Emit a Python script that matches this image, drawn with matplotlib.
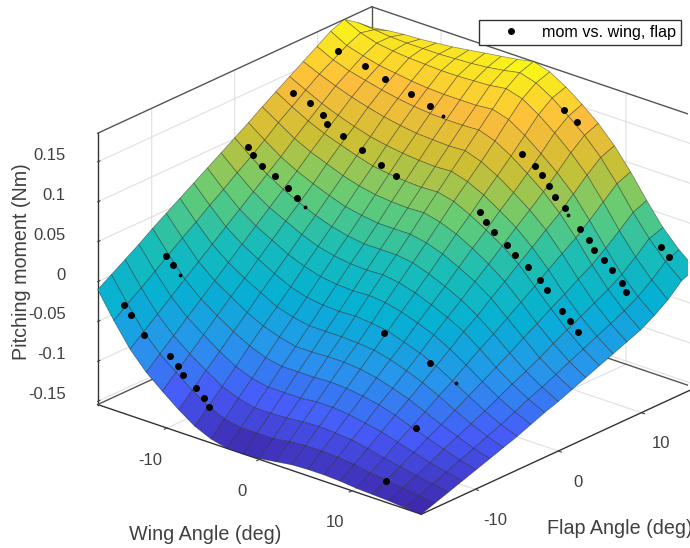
import matplotlib
matplotlib.use("Agg")
import matplotlib.pyplot as plt
from matplotlib.colors import LinearSegmentedColormap
import numpy as np

plt.rcParams['font.family'] = ['Liberation Sans', 'DejaVu Sans']
plt.rcParams['axes.unicode_minus'] = False

wing_grid = [-17.5, -15.75, -14, -12.25, -10.5, -8.75, -7, -5.25, -3.5, -1.75, 0,
             1.75, 3.5, 5.25, 7, 8.75, 10.5, 12.25, 14, 15.75, 17.5]
flap_grid = [-16.5, -14.85, -13.2, -11.55, -9.9, -8.25, -6.6, -4.95, -3.3, -1.65, 0,
             1.65, 3.3, 4.95, 6.6, 8.25, 9.9, 11.55, 13.2, 14.85, 16.5]

# fitted surface, in 1/1000 Nm, one row per flap angle
moment_milli = [
    [-10, -42, -71, -93, -110, -126, -140, -149, -154, -154, -153, -150, -147, -146, -146, -147, -149, -150, -151, -153, -154],
    [1, -29, -57, -78, -94, -110, -123, -132, -136, -136, -136, -133, -131, -131, -132, -134, -138, -140, -143, -146, -148],
    [12, -17, -43, -63, -79, -93, -106, -114, -119, -119, -118, -116, -115, -116, -118, -122, -127, -131, -135, -139, -142],
    [23, -4, -29, -48, -63, -77, -89, -97, -101, -101, -101, -99, -99, -101, -105, -109, -115, -121, -127, -132, -136],
    [35, 9, -15, -33, -47, -60, -71, -79, -83, -83, -83, -82, -83, -86, -90, -96, -104, -111, -118, -125, -130],
    [46, 22, -1, -18, -31, -44, -54, -61, -66, -66, -65, -65, -67, -71, -77, -84, -93, -102, -110, -118, -124],
    [57, 34, 13, -3, -16, -27, -38, -44, -48, -48, -48, -49, -51, -56, -63, -71, -81, -92, -102, -111, -118],
    [68, 47, 27, 12, 0, -11, -21, -27, -30, -31, -30, -32, -35, -42, -49, -58, -70, -82, -94, -104, -112],
    [79, 59, 41, 27, 16, 5, -3, -9, -12, -13, -12, -14, -19, -26, -34, -45, -58, -72, -85, -96, -105],
    [90, 72, 55, 42, 32, 22, 14, 9, 6, 5, 6, 3, -3, -11, -20, -31, -46, -62, -76, -88, -98],
    [101, 84, 69, 57, 47, 38, 31, 26, 23, 23, 23, 20, 13, 4, -6, -19, -35, -52, -68, -81, -92],
    [112, 97, 83, 72, 63, 55, 48, 44, 41, 41, 41, 37, 30, 20, 9, -5, -23, -41, -59, -73, -85],
    [124, 111, 98, 88, 80, 72, 66, 62, 60, 59, 60, 55, 47, 36, 23, 8, -11, -31, -49, -65, -78],
    [135, 123, 112, 103, 96, 89, 83, 80, 78, 77, 78, 73, 63, 51, 38, 22, 1, -20, -40, -57, -71],
    [146, 136, 126, 118, 111, 105, 101, 98, 96, 95, 96, 90, 80, 67, 53, 35, 14, -10, -31, -49, -64],
    [157, 148, 140, 133, 127, 122, 118, 115, 114, 113, 114, 107, 96, 82, 67, 49, 26, 1, -22, -41, -57],
    [168, 158, 151, 146, 141, 137, 134, 132, 131, 131, 132, 125, 113, 98, 82, 62, 38, 11, -13, -33, -50],
    [179, 168, 162, 157, 154, 151, 149, 148, 148, 148, 150, 144, 131, 115, 98, 78, 52, 24, -2, -23, -40],
    [186, 176, 170, 167, 165, 164, 163, 163, 164, 165, 168, 162, 149, 133, 115, 94, 67, 38, 12, -10, -28],
    [174, 172, 170, 169, 169, 169, 170, 171, 173, 176, 180, 174, 162, 146, 129, 108, 82, 53, 27, 5, -12],
    [160, 163, 165, 166, 168, 170, 173, 176, 179, 182, 186, 180, 168, 153, 136, 115, 89, 60, 33, 12, -5],
]

# measured points
wing_pts = [-16.7, -13.8, -11.6, -8.8, -6.7, 7.7, 9.1,
            3.2, 4.6, 5.4, 6.1, 6.8, 7.8,
            9.5, 10.4, 11.0, 12.1, 12.9, 14.0, 14.5,
            -17.1, -15.3, -13.9, -13.4, -11.7, -9.7, -7.6, -6.0,
            3.1, 3.8, 4.6, 6.0, 6.9, 8.3, 9.6, 10.3,
            14.4, 15.2,
            -17.5, -17.0, -16.0, -14.6, -13.2, -12.3,
            14.3, 15.2, 16.1,
            -17.5, -16.8, 6.1, 11.0,
            -16.1, -15.4, -14.0, -11.2, -10.3, -9.7, -8.4, -7.5, -6.9, 15.4, 12.2]
flap_pts = [11.55] * 20 + [6.6] * 16 + [15.84] * 2 + [1.65] * 6 + [3.96] * 3 + [-8.25] * 4 + [-14.85] * 11
mom_pts = [.1579, .1505, .1428, .1351, .1273, .1788, .1693,
           .1071, .0976, .0885, .0774, .0666, .0566,
           .0371, .0269, .0169, .0086, -.0009, -.0129, -.0221,
           .1276, .121, .1115, .1021, .0939, .0844, .0736, .0664,
           .057, .0475, .0379, .0271, .0181, .0086, -.0026, -.0121,
           .0133, .0038,
           .0812, .0733, .0633, .0564, .0469, .0376,
           -.0099, -.019, -.029,
           -.0072, -.016, -.011, -.0302,
           -.0312, -.0414, -.0607, -.0759, -.085, -.0937, -.1049, -.114, -.1239, -.0616, -.1412]

# points that barely poke through the surface
wing_hidden = [-5.4, 8.2, -11.4, -16.0, 13.9]
flap_hidden = [11.55, 11.55, 1.65, -8.25, -8.25]
mom_hidden = [.1198, .0496, .0303, -.0252, -.043]

x_ticks = [-10, 0, 10]
y_ticks = [-10, 0, 10]
z_ticks = [-0.15, -0.1, -0.05, 0, 0.05, 0.1, 0.15]
z_ticklabels = ['-0.15', '-0.1', '-0.05', '0', '0.05', '0.1', '0.15']
x_lim = (-17.5, 17.5)
y_lim = (-16.5, 16.5)
z_lim = (-.154, .186)

parula = LinearSegmentedColormap.from_list('parula', [
    (0.0, (.2422, .1504, .6603)), (.125, (.2778, .3556, .9777)),
    (.25, (.1540, .5902, .9218)), (.375, (.0200, .6900, .8300)),
    (.5, (.1000, .7400, .7200)), (.625, (.4000, .8000, .4500)),
    (.75, (.8000, .7500, .2000)), (.875, (.9900, .7400, .2400)),
    (1.0, (.9769, .9839, .0805))])

W, H = 690, 548
size = 600
text_color = (.25, .25, .25)
fig = plt.figure(figsize=(W / 100, H / 100), dpi=100)
ax = fig.add_axes([88.4 / W, -20.6 / H, size / W, size / H], projection='3d', proj_type='ortho')
ax.set_box_aspect((427, 422, 296), zoom=648.5 / size)
ax.view_init(elev=23.3, azim=-49.4)
ax.computed_zorder = False
ax.patch.set_alpha(0)

# back edges of the box, behind the surface
box_color = (.33, .33, .33)
for xs, ys, zs in [(x_lim, (y_lim[1], y_lim[1]), (z_lim[1], z_lim[1])),
                   ((x_lim[0], x_lim[0]), y_lim, (z_lim[1], z_lim[1])),
                   ((x_lim[0], x_lim[0]), (y_lim[1], y_lim[1]), z_lim),
                   (x_lim, (y_lim[1], y_lim[1]), (z_lim[0], z_lim[0])),
                   ((x_lim[0], x_lim[0]), y_lim, (z_lim[0], z_lim[0]))]:
    ax.plot(xs, ys, zs, color=box_color, lw=1.0, zorder=1)

X, Y = np.meshgrid(wing_grid, flap_grid)
Z = np.array(moment_milli) / 1000.0
ax.plot_surface(X, Y, Z, rstride=1, cstride=1, cmap=parula, vmin=z_lim[0], vmax=z_lim[1], shade=False,
                edgecolor=(.1, .1, .1, .5), linewidth=.5, zorder=2)
pts, = ax.plot(wing_pts, flap_pts, mom_pts, '.', color='k', ms=8, zorder=3, label='mom vs. wing, flap')
ax.plot(wing_hidden, flap_hidden, mom_hidden, '.', color='k', ms=3.5, zorder=3)

ax.set_xlim(*x_lim, view_margin=0)
ax.set_ylim(*y_lim, view_margin=0)
ax.set_zlim(*z_lim, view_margin=0)
ax.set_xticks(x_ticks)
ax.set_yticks(y_ticks)
ax.set_zticks(z_ticks)
ax.set_zticklabels(z_ticklabels)
ax.zaxis.set_ticks_position('lower')

for axis in (ax.xaxis, ax.yaxis, ax.zaxis):
    axis.pane.set_facecolor((1, 1, 1, 0))
    axis.pane.set_edgecolor((1, 1, 1, 0))
    axis.line.set_color((.2, .2, .2))
    axis.line.set_linewidth(1.0)
    axis._axinfo['grid'].update(color=(.88, .88, .88), linewidth=.8)
    axis._axinfo['tick'].update(inward_factor=.12, outward_factor=0)
ax.zaxis._axinfo['tick'].update(inward_factor=0, outward_factor=.1)
ax.tick_params(axis='both', labelsize=12, labelcolor=text_color, colors=text_color)
ax.tick_params(axis='x', pad=6)
ax.tick_params(axis='y', pad=6)
ax.tick_params(axis='z', pad=4)
for t in ax.zaxis.get_ticklabels():
    t.set_ha('right')
    t.set_va('bottom')

fig.text(205 / W, 1 - 534 / H, 'Wing Angle (deg)', ha='center', va='center', fontsize=14.2, color=text_color)
fig.text(547 / W, 1 - 529 / H, 'Flap Angle (deg)', ha='left', va='center', fontsize=14.2, color=text_color)
fig.text(22 / W, 1 - 262 / H, 'Pitching moment (Nm)', rotation=90, ha='center', va='center', fontsize=14.2, color=text_color)

fig.legend(handles=[pts], loc='upper right', bbox_to_anchor=(681 / W, 1 - 20 / H), fancybox=False,
           edgecolor=(.2, .2, .2), framealpha=1, fontsize=11.6, borderpad=.3, handlelength=3.35,
           handletextpad=.25, borderaxespad=0)

fig.savefig('out.png', dpi=100)
